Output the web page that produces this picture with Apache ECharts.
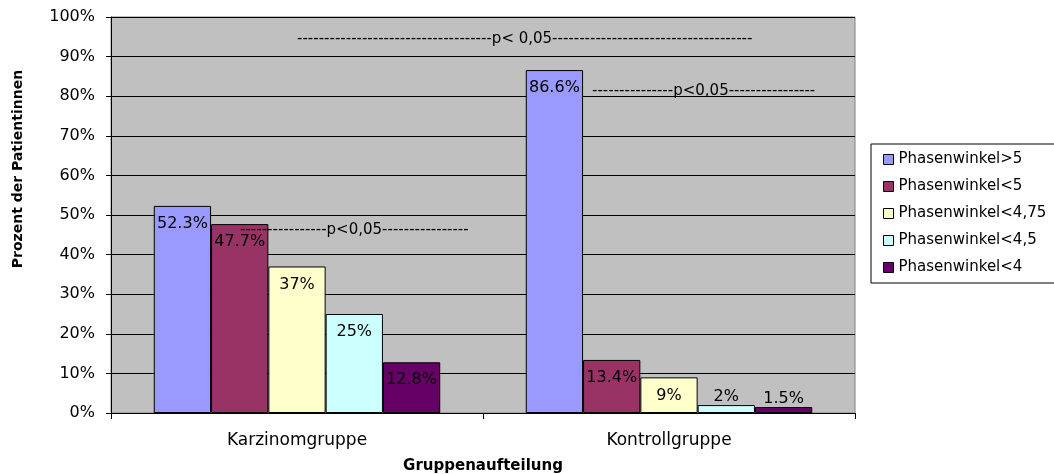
<!DOCTYPE html>
<html>
<head>
<meta charset="utf-8">
<script src="https://cdn.jsdelivr.net/npm/echarts@6/dist/echarts.min.js"></script>
<style>
  html, body { margin: 0; padding: 0; background: #fff; }
  #chart { width: 1054px; height: 474px; }
</style>
</head>
<body>
<div id="chart"></div>
<script>
var categories = ['Karzinomgruppe', 'Kontrollgruppe'];
var seriesNames = ['Phasenwinkel>5', 'Phasenwinkel<5', 'Phasenwinkel<4,75', 'Phasenwinkel<4,5', 'Phasenwinkel<4'];
var seriesColors = ['#9999FF', '#993366', '#FFFFCC', '#CCFFFF', '#660066'];
var pgt5 = [52.3, 86.6];
var plt5 = [47.7, 13.4];
var plt475 = [37, 9];
var plt45 = [25, 2];
var plt4 = [12.8, 1.5];
var seriesValues = [pgt5, plt5, plt475, plt45, plt4];

var font = 'DejaVu Sans';

var myChart = echarts.init(document.getElementById('chart'));

var series = seriesNames.map(function (name, i) {
    return {
        name: name,
        type: 'bar',
        barGap: '0%',
        barCategoryGap: '23%',
        itemStyle: {
            color: seriesColors[i],
            borderColor: '#000',
            borderWidth: 1
        },
        label: {
            show: true,
            position: 'insideTop',
            distance: 10,
            fontFamily: font,
            fontSize: 16,
            color: '#000',
            formatter: function (p) { return p.value + '%'; }
        },
        data: seriesValues[i].map(function (v) {
            // very small bars: label sits above the bar
            if (v < 5) {
                return { value: v, label: { position: 'top', distance: 0 } };
            }
            return v;
        })
    };
});

option = {
    animation: false,
    textStyle: { fontFamily: font },
    grid: {
        left: 111,
        right: 199,
        top: 17,
        bottom: 61,
        outerBoundsMode: 'none',
        show: true,
        backgroundColor: '#C0C0C0',
        borderColor: '#808080',
        borderWidth: 1
    },
    legend: {
        orient: 'vertical',
        left: 871,
        top: 144,
        padding: [8, 20, 8, 12],
        itemWidth: 10,
        itemHeight: 10,
        itemGap: 12,
        backgroundColor: '#fff',
        borderColor: '#000',
        borderWidth: 1,
        borderRadius: 0,
        icon: 'rect',
        itemStyle: { borderColor: '#000', borderWidth: 1 },
        textStyle: { fontFamily: font, fontSize: 15, color: '#000' },
        data: seriesNames
    },
    xAxis: {
        type: 'category',
        data: categories,
        name: 'Gruppenaufteilung',
        nameLocation: 'middle',
        nameGap: 46,
        nameTextStyle: { fontFamily: font, fontSize: 15, fontWeight: 'bold', color: '#000' },
        axisLine: { lineStyle: { color: '#000', width: 1 } },
        axisTick: { show: true, length: 6, lineStyle: { color: '#000' } },
        axisLabel: { margin: 19, fontFamily: font, fontSize: 17, color: '#000' },
        splitLine: { show: false }
    },
    yAxis: {
        type: 'value',
        min: 0,
        max: 100,
        interval: 10,
        axisLine: { show: true, lineStyle: { color: '#000', width: 1 } },
        axisTick: { show: true, length: 5, lineStyle: { color: '#000' } },
        axisLabel: { margin: 16, fontFamily: font, fontSize: 16, color: '#000', formatter: '{value}%' },
        splitLine: { show: true, lineStyle: { color: '#000', width: 1 } }
    },
    graphic: [
        {
            // y axis title, sits above the middle of the axis like the original
            type: 'text', x: 18, y: 169, rotation: Math.PI / 2, z: 100,
            style: {
                text: 'Prozent der Patientinnen',
                font: 'bold 14px DejaVu Sans', fill: '#000', align: 'center', verticalAlign: 'middle'
            }
        },
        {
            type: 'text', x: 297, y: 39, z: 100,
            style: {
                text: '------------------------------------p< 0,05-------------------------------------',
                font: '15px DejaVu Sans', fill: '#000', verticalAlign: 'middle'
            }
        },
        {
            type: 'text', x: 592, y: 91, z: 100,
            style: {
                text: '---------------p<0,05----------------',
                font: '15px DejaVu Sans', fill: '#000', verticalAlign: 'middle'
            }
        },
        {
            type: 'text', x: 240, y: 230, z: 100,
            style: {
                text: '----------------p<0,05----------------',
                font: '15px DejaVu Sans', fill: '#000', verticalAlign: 'middle'
            }
        }
    ],
    series: series
};
myChart.setOption(option);
</script>
</body>
</html>
